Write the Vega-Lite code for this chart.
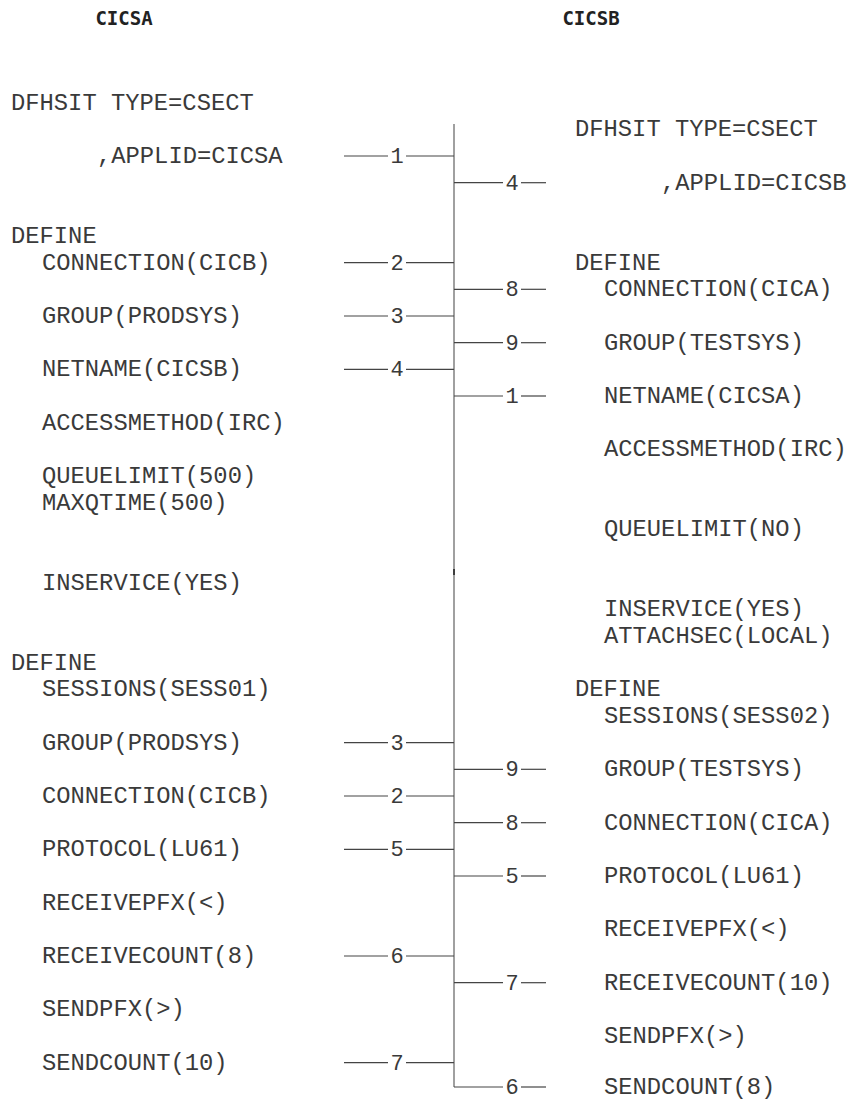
{
  "$schema": "https://vega.github.io/schema/vega-lite/v6.json",
  "width": 851,
  "height": 1099,
  "autosize": {"type": "fit", "contains": "padding"},
  "padding": 0,
  "background": "white",
  "config": {"view": {"stroke": null}},
  "datasets": {
    "titles": [
      {"x": 124, "y": 19, "t": "CICSA"},
      {"x": 591, "y": 19, "t": "CICSB"}
    ],
    "code": [
      {"x": 11, "y": 103, "t": "DFHSIT TYPE=CSECT"},
      {"x": 97, "y": 156, "t": ",APPLID=CICSA"},
      {"x": 11, "y": 236, "t": "DEFINE"},
      {"x": 42, "y": 262.7, "t": "CONNECTION(CICB)"},
      {"x": 42, "y": 316, "t": "GROUP(PRODSYS)"},
      {"x": 42, "y": 369.3, "t": "NETNAME(CICSB)"},
      {"x": 42, "y": 422.7, "t": "ACCESSMETHOD(IRC)"},
      {"x": 42, "y": 476, "t": "QUEUELIMIT(500)"},
      {"x": 42, "y": 502.7, "t": "MAXQTIME(500)"},
      {"x": 42, "y": 582.7, "t": "INSERVICE(YES)"},
      {"x": 11, "y": 662.7, "t": "DEFINE"},
      {"x": 42, "y": 689.3, "t": "SESSIONS(SESS01)"},
      {"x": 42, "y": 742.7, "t": "GROUP(PRODSYS)"},
      {"x": 42, "y": 796, "t": "CONNECTION(CICB)"},
      {"x": 42, "y": 849.3, "t": "PROTOCOL(LU61)"},
      {"x": 42, "y": 902.7, "t": "RECEIVEPFX(<)"},
      {"x": 42, "y": 956, "t": "RECEIVECOUNT(8)"},
      {"x": 42, "y": 1009.3, "t": "SENDPFX(>)"},
      {"x": 42, "y": 1062.7, "t": "SENDCOUNT(10)"},
      {"x": 575, "y": 129.3, "t": "DFHSIT TYPE=CSECT"},
      {"x": 661, "y": 182.7, "t": ",APPLID=CICSB"},
      {"x": 575, "y": 262.7, "t": "DEFINE"},
      {"x": 604, "y": 289.3, "t": "CONNECTION(CICA)"},
      {"x": 604, "y": 342.7, "t": "GROUP(TESTSYS)"},
      {"x": 604, "y": 396, "t": "NETNAME(CICSA)"},
      {"x": 604, "y": 449.3, "t": "ACCESSMETHOD(IRC)"},
      {"x": 604, "y": 529.3, "t": "QUEUELIMIT(NO)"},
      {"x": 604, "y": 609.3, "t": "INSERVICE(YES)"},
      {"x": 604, "y": 636, "t": "ATTACHSEC(LOCAL)"},
      {"x": 575, "y": 689.3, "t": "DEFINE"},
      {"x": 604, "y": 716, "t": "SESSIONS(SESS02)"},
      {"x": 604, "y": 769.3, "t": "GROUP(TESTSYS)"},
      {"x": 604, "y": 822.7, "t": "CONNECTION(CICA)"},
      {"x": 604, "y": 876, "t": "PROTOCOL(LU61)"},
      {"x": 604, "y": 929.3, "t": "RECEIVEPFX(<)"},
      {"x": 604, "y": 982.7, "t": "RECEIVECOUNT(10)"},
      {"x": 604, "y": 1036, "t": "SENDPFX(>)"},
      {"x": 604, "y": 1087, "t": "SENDCOUNT(8)"}
    ],
    "links": [
      {"side": "left", "n": "1", "y": 156},
      {"side": "left", "n": "2", "y": 262.7},
      {"side": "left", "n": "3", "y": 316},
      {"side": "left", "n": "4", "y": 369.3},
      {"side": "left", "n": "3", "y": 742.7},
      {"side": "left", "n": "2", "y": 796},
      {"side": "left", "n": "5", "y": 849.3},
      {"side": "left", "n": "6", "y": 956},
      {"side": "left", "n": "7", "y": 1062.7},
      {"side": "right", "n": "4", "y": 182.7},
      {"side": "right", "n": "8", "y": 289.3},
      {"side": "right", "n": "9", "y": 342.7},
      {"side": "right", "n": "1", "y": 396},
      {"side": "right", "n": "9", "y": 769.3},
      {"side": "right", "n": "8", "y": 822.7},
      {"side": "right", "n": "5", "y": 876},
      {"side": "right", "n": "7", "y": 982.7},
      {"side": "right", "n": "6", "y": 1087}
    ]
  },
  "layer": [
    {
      "data": {"values": [{}]},
      "mark": {"type": "rule", "color": "#808080", "strokeWidth": 1.5},
      "encoding": {
        "x": {"datum": 454, "type": "quantitative", "scale": {"domain": [0, 851], "nice": false, "zero": false}, "axis": null},
        "y": {"datum": 124, "type": "quantitative", "scale": {"domain": [0, 1099], "nice": false, "zero": false, "reverse": true}, "axis": null},
        "y2": {"datum": 1087}
      }
    },
    {
      "data": {"values": [{}]},
      "mark": {"type": "rule", "color": "#333333", "strokeWidth": 1.8},
      "encoding": {
        "x": {"datum": 454, "type": "quantitative"},
        "y": {"datum": 569, "type": "quantitative"},
        "y2": {"datum": 575}
      }
    },
    {
      "data": {"name": "links"},
      "transform": [{"filter": "datum.side === 'left'"}],
      "mark": {"type": "rule", "color": "#444444", "strokeWidth": 1.2},
      "encoding": {
        "x": {"datum": 344, "type": "quantitative"},
        "x2": {"datum": 388},
        "y": {"field": "y", "type": "quantitative"}
      }
    },
    {
      "data": {"name": "links"},
      "transform": [{"filter": "datum.side === 'left'"}],
      "mark": {"type": "rule", "color": "#444444", "strokeWidth": 1.2},
      "encoding": {
        "x": {"datum": 406, "type": "quantitative"},
        "x2": {"datum": 454},
        "y": {"field": "y", "type": "quantitative"}
      }
    },
    {
      "data": {"name": "links"},
      "transform": [{"filter": "datum.side === 'left'"}],
      "mark": {"type": "text", "font": "Liberation Mono", "fontSize": 22, "color": "#3a3a3a", "align": "center", "baseline": "middle"},
      "encoding": {
        "x": {"datum": 397, "type": "quantitative"},
        "y": {"field": "y", "type": "quantitative"},
        "text": {"field": "n"}
      }
    },
    {
      "data": {"name": "links"},
      "transform": [{"filter": "datum.side === 'right'"}],
      "mark": {"type": "rule", "color": "#444444", "strokeWidth": 1.2},
      "encoding": {
        "x": {"datum": 454, "type": "quantitative"},
        "x2": {"datum": 503},
        "y": {"field": "y", "type": "quantitative"}
      }
    },
    {
      "data": {"name": "links"},
      "transform": [{"filter": "datum.side === 'right'"}],
      "mark": {"type": "rule", "color": "#444444", "strokeWidth": 1.2},
      "encoding": {
        "x": {"datum": 521, "type": "quantitative"},
        "x2": {"datum": 546},
        "y": {"field": "y", "type": "quantitative"}
      }
    },
    {
      "data": {"name": "links"},
      "transform": [{"filter": "datum.side === 'right'"}],
      "mark": {"type": "text", "font": "Liberation Mono", "fontSize": 22, "color": "#3a3a3a", "align": "center", "baseline": "middle"},
      "encoding": {
        "x": {"datum": 512, "type": "quantitative"},
        "y": {"field": "y", "type": "quantitative"},
        "text": {"field": "n"}
      }
    },
    {
      "data": {"name": "code"},
      "mark": {"type": "text", "font": "Liberation Mono", "fontSize": 23.8, "color": "#3a3a3a", "align": "left", "baseline": "middle"},
      "encoding": {
        "x": {"field": "x", "type": "quantitative"},
        "y": {"field": "y", "type": "quantitative"},
        "text": {"field": "t"}
      }
    },
    {
      "data": {"name": "titles"},
      "mark": {"type": "text", "font": "DejaVu Sans Mono", "fontWeight": "bold", "fontSize": 19, "color": "#222222", "align": "center", "baseline": "middle"},
      "encoding": {
        "x": {"field": "x", "type": "quantitative"},
        "y": {"field": "y", "type": "quantitative"},
        "text": {"field": "t"}
      }
    }
  ]
}
